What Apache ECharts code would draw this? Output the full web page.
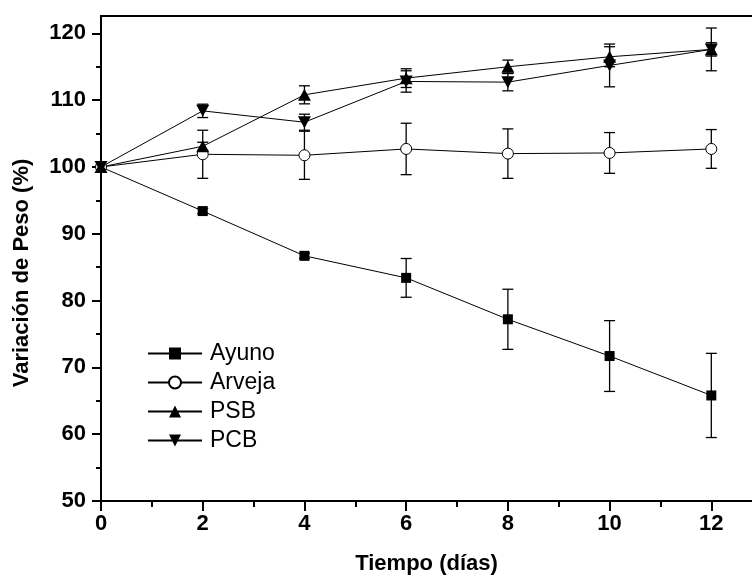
<!DOCTYPE html>
<html><head><meta charset="utf-8">
<script src="https://cdn.jsdelivr.net/npm/echarts@6/dist/echarts.min.js"></script>
<style>html,body{margin:0;padding:0;background:#fff}#c{width:752px;height:580px}</style>
</head><body><div id="c"></div>
<script>
const days = [0, 2, 4, 6, 8, 10, 12];
const xMajorTicks = [0, 2, 4, 6, 8, 10, 12];
const xMinorTicks = [1, 3, 5, 7, 9, 11];
const yMajorTicks = [50, 60, 70, 80, 90, 100, 110, 120];
const yMinorTicks = [55, 65, 75, 85, 95, 105, 115];

const ayuno = [100, 93.4, 86.7, 83.4, 77.2, 71.7, 65.8];
const ayunoErr = [0, 0.4, 0.4, 2.9, 4.5, 5.3, 6.3];
const arveja = [100, 101.9, 101.75, 102.7, 102.0, 102.1, 102.7];
const arvejaErr = [0, 3.6, 3.6, 3.85, 3.7, 3.05, 2.9];
const psb = [100, 103.1, 110.8, 113.3, 115.0, 116.5, 117.6];
const psbErr = [0, 0.6, 1.35, 1.4, 1.0, 1.5, 1.0];
const pcb = [100, 108.4, 106.7, 112.8, 112.7, 115.2, 117.6];
const pcbErr = [0, 1.0, 1.2, 1.6, 1.3, 3.2, 3.2];

const FONT = 'Liberation Sans, Arial, sans-serif';

function pairs(v) { return days.map((d, i) => [d, v[i]]); }
function errData(v, e) {
  const out = [];
  days.forEach((d, i) => { if (e[i] > 0) out.push([d, v[i] - e[i], v[i] + e[i]]); });
  return out;
}
function renderErr(params, api) {
  const x = api.value(0), lo = api.value(1), hi = api.value(2);
  const p1 = api.coord([x, lo]), p2 = api.coord([x, hi]);
  const w = 5.5;
  const st = { stroke: '#000', lineWidth: 1.3 };
  return { type: 'group', children: [
    { type: 'line', shape: { x1: p1[0], y1: p1[1], x2: p2[0], y2: p2[1] }, style: st },
    { type: 'line', shape: { x1: p1[0] - w, y1: p1[1], x2: p1[0] + w, y2: p1[1] }, style: st },
    { type: 'line', shape: { x1: p2[0] - w, y1: p2[1], x2: p2[0] + w, y2: p2[1] }, style: st }
  ]};
}
function errSeries(v, e) {
  return { type: 'custom', xAxisIndex: 0, yAxisIndex: 0, z: 1, silent: true,
    renderItem: renderErr, encode: { x: 0, y: [1, 2] }, data: errData(v, e) };
}

const XMAX = 12.8, YMIN = 50, YMAX = 122.6;
const axisLineStyle = { color: '#000', width: 2 };
const gridRect = { left: 101, right: 0, top: 16, bottom: 79, outerBoundsMode: 'none', containLabel: false };

const chart = echarts.init(document.getElementById('c'), null, { renderer: 'canvas' });
chart.setOption({
  animation: false,
  backgroundColor: '#fff',
  grid: [Object.assign({}, gridRect), Object.assign({}, gridRect)],
  xAxis: [
    { gridIndex: 0, type: 'value', min: 0, max: XMAX, position: 'bottom',
      axisLine: { show: true, lineStyle: axisLineStyle },
      axisTick: { show: true, length: 10, lineStyle: { color: '#000', width: 2 }, customValues: xMajorTicks },
      axisLabel: { customValues: xMajorTicks, fontSize: 22, fontWeight: 'bold', color: '#000', margin: 12, fontFamily: FONT },
      splitLine: { show: false },
      name: 'Tiempo (días)', nameLocation: 'middle', nameGap: 52,
      nameTextStyle: { fontSize: 22, fontWeight: 'bold', color: '#000', fontFamily: FONT } },
    { gridIndex: 0, type: 'value', min: 0, max: XMAX, position: 'top',
      axisLine: { show: true, lineStyle: axisLineStyle },
      axisTick: { show: false }, axisLabel: { show: false }, splitLine: { show: false } },
    { gridIndex: 1, type: 'value', min: 0, max: XMAX, position: 'bottom',
      axisLine: { show: false },
      axisTick: { show: true, length: 6, lineStyle: { color: '#000', width: 2 }, customValues: xMinorTicks },
      axisLabel: { show: false }, splitLine: { show: false } }
  ],
  yAxis: [
    { gridIndex: 0, type: 'value', min: YMIN, max: YMAX, position: 'left',
      axisLine: { show: true, lineStyle: axisLineStyle },
      axisTick: { show: true, length: 9, lineStyle: { color: '#000', width: 2 }, customValues: yMajorTicks },
      axisLabel: { customValues: yMajorTicks, fontSize: 22, fontWeight: 'bold', color: '#000', margin: 15, fontFamily: FONT },
      splitLine: { show: false } },
    { gridIndex: 1, type: 'value', min: YMIN, max: YMAX, position: 'left',
      axisLine: { show: false },
      axisTick: { show: true, length: 5, lineStyle: { color: '#000', width: 2 }, customValues: yMinorTicks },
      axisLabel: { show: false }, splitLine: { show: false } }
  ],
  legend: {
    data: ['Ayuno', 'Arveja', 'PSB', 'PCB'], orient: 'vertical', left: 147, top: 342,
    itemWidth: 54, itemHeight: 15, itemGap: 6, padding: 0, selectedMode: false,
    textStyle: { fontSize: 23, color: '#000', fontFamily: FONT, padding: [0, 0, 0, 3] }
  },
  graphic: [{
    type: 'text', x: 22, y: 273, rotation: Math.PI / 2,
    style: { text: 'Variación de Peso (%)', fontSize: 22, fontWeight: 'bold', fontFamily: FONT,
      fill: '#000', align: 'center', verticalAlign: 'middle' }
  }],
  series: [
    errSeries(ayuno, ayunoErr),
    errSeries(arveja, arvejaErr),
    errSeries(psb, psbErr),
    errSeries(pcb, pcbErr),
    { name: 'Ayuno', type: 'line', xAxisIndex: 0, yAxisIndex: 0, data: pairs(ayuno), symbol: 'rect', symbolSize: 10,
      lineStyle: { color: '#000', width: 1 }, itemStyle: { color: '#000' }, z: 3 },
    { name: 'Arveja', type: 'line', xAxisIndex: 0, yAxisIndex: 0, data: pairs(arveja), symbol: 'circle', symbolSize: 11,
      lineStyle: { color: '#000', width: 1 }, itemStyle: { color: '#fff', borderColor: '#000', borderWidth: 1 }, z: 3 },
    { name: 'PSB', type: 'line', xAxisIndex: 0, yAxisIndex: 0, data: pairs(psb), symbol: 'triangle', symbolSize: [13, 12],
      lineStyle: { color: '#000', width: 1 }, itemStyle: { color: '#000' }, z: 3 },
    { name: 'PCB', type: 'line', xAxisIndex: 0, yAxisIndex: 0, data: pairs(pcb), symbol: 'triangle', symbolSize: [13, 12], symbolRotate: 180,
      lineStyle: { color: '#000', width: 1 }, itemStyle: { color: '#000' }, z: 3 }
  ]
});
</script></body></html>
